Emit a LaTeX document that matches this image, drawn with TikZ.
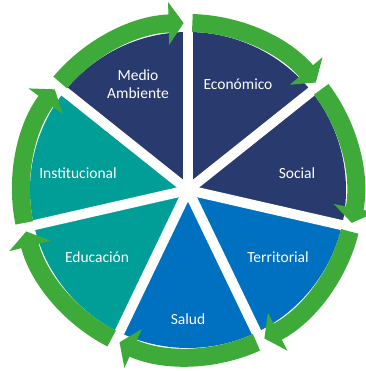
\documentclass[tikz,border=0pt]{standalone}
\usepackage{fontspec}
\setmainfont{Carlito}
\usetikzlibrary{arrows.meta}
\definecolor{navyseg}{HTML}{283A6E}
\definecolor{blueseg}{HTML}{0070C0}
\definecolor{tealseg}{HTML}{009E96}
\definecolor{ringgreen}{HTML}{3DAA3A}

\begin{document}
\begin{tikzpicture}[
    x=1pt, y=1pt,
    gap/.style={white, line width=10pt},
    ring/.style={ringgreen, line width=18pt, -{Triangle[length=15pt, width=42pt]}},
    lbl/.style={text=white, align=center, font=\fontsize{15.5}{18}\selectfont}
]
\useasboundingbox (-188,-181) rectangle (177,190);

% sectors, clockwise from the top
\foreach \a/\c in {90/navyseg, 38.57/navyseg, -12.86/blueseg, -64.29/blueseg, -115.71/tealseg, -167.14/tealseg, 141.43/navyseg}
  \fill[\c] (0,0) -- (\a:158) arc[start angle=\a, end angle=\a-51.43, radius=158] -- cycle;

% white gaps between sectors
\foreach \a in {90, 38.57, -12.86, -64.29, -115.71, -167.14, 141.43}
  \draw[gap] (0,0) -- (\a:160);

% green ring of arrows
\foreach \a in {90, 38.57, -12.86, -64.29, -115.71, -167.14, 141.43}
  \draw[ring] ({\a-1.5}:167) arc[start angle=\a-1.5, end angle=\a-49.93, radius=167];

\node[lbl] (medio) at (-50,106) {Medio\\Ambiente};
\node[lbl] (economico) at (50,106) {Económico};
\node[lbl] (social) at (109,17) {Social};
\node[lbl] (territorial) at (90,-67) {Territorial};
\node[lbl] (salud) at (0,-129) {Salud};
\node[lbl] (educacion) at (-91,-67) {Educación};
\node[lbl] (institucional) at (-110,17) {Institucional};
\end{tikzpicture}
\end{document}
